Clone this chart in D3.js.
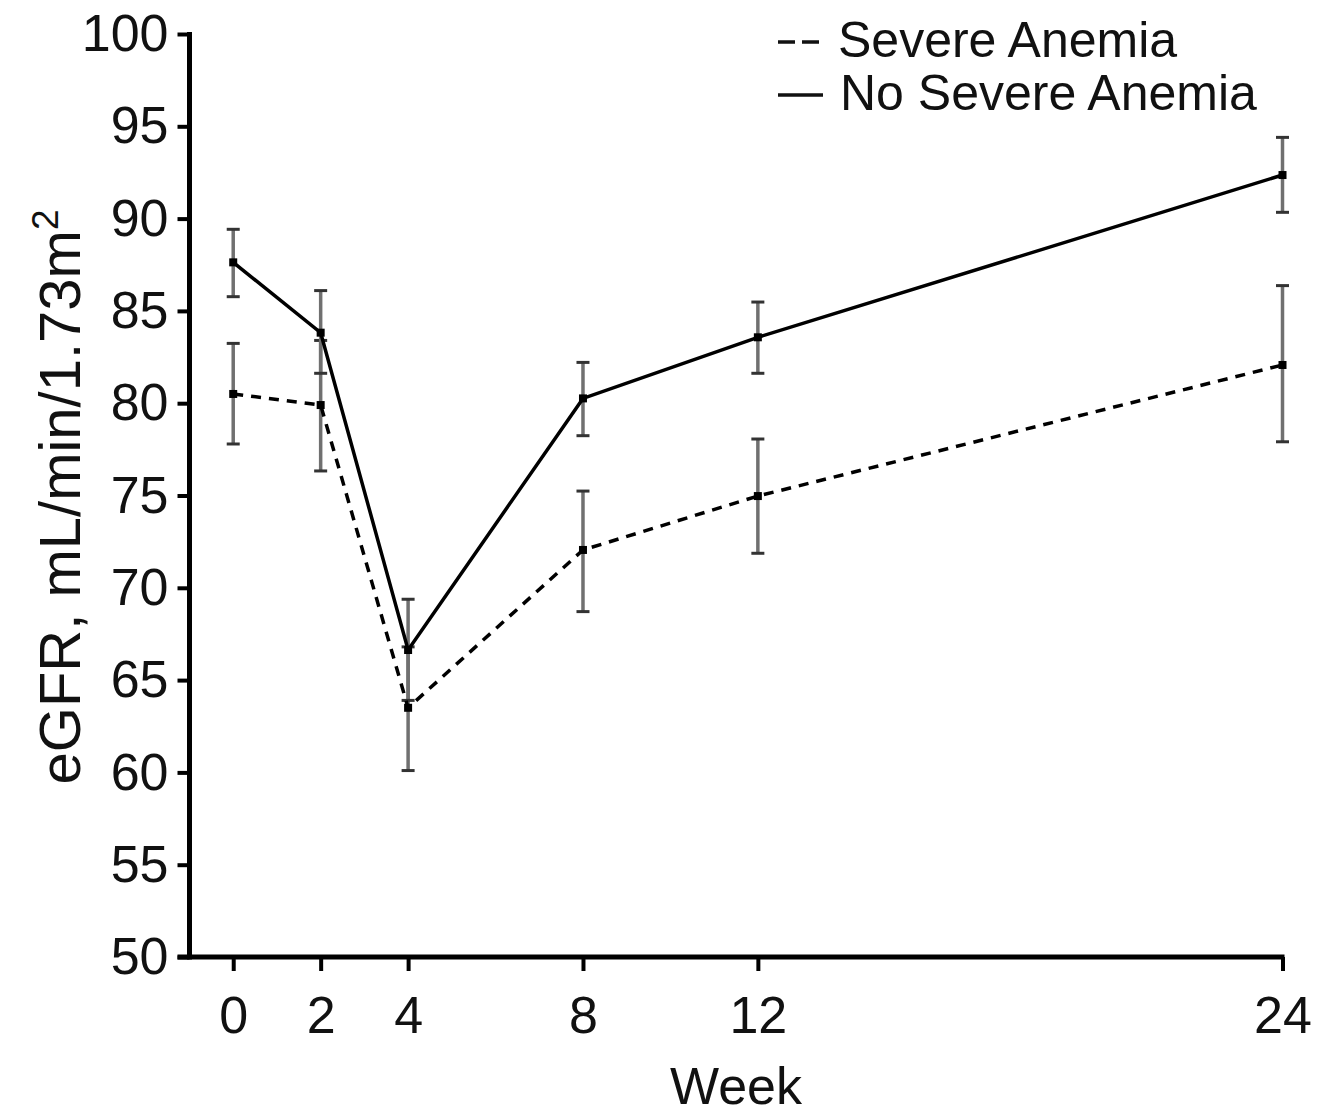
<!DOCTYPE html>
<html>
<head>
<meta charset="utf-8">
<script src="https://cdn.jsdelivr.net/npm/d3@7"></script>
<style>
html,body{margin:0;padding:0;background:#fff;}
svg{display:block;}
text{font-family:"Liberation Sans",Arial,sans-serif;fill:#111;}
</style>
</head>
<body>
<script>
const weeks = [0, 2, 4, 8, 12, 24];
const weekLabels = ["0", "2", "4", "8", "12", "24"];
const yTicks = [50, 55, 60, 65, 70, 75, 80, 85, 90, 95, 100];

const severeMean  = [80.5, 79.9, 63.5, 72.05, 74.97, 82.07];
const severeUpper = [83.24, 83.4, 66.8, 75.24, 78.06, 86.37];
const severeLower = [77.79, 76.33, 60.1, 68.71, 71.87, 77.91];

const noSevereMean  = [87.63, 83.82, 66.63, 80.26, 83.57, 92.36];
const noSevereUpper = [89.42, 86.1, 69.38, 82.21, 85.48, 94.4];
const noSevereLower = [85.77, 81.62, 63.9, 78.24, 81.62, 90.34];

const seriesNames = ["Severe Anemia", "No Severe Anemia"];

const W = 1328, H = 1117;
const svg = d3.select("body").append("svg").attr("width", W).attr("height", H);

const x = d3.scaleLinear().domain([-1, 24]).range([189.5, 1282.5]);
const y = d3.scaleLinear().domain([50, 100]).range([957, 34]);

const series = [
  {name: seriesNames[0], mean: severeMean, up: severeUpper, lo: severeLower, dash: "10,8"},
  {name: seriesNames[1], mean: noSevereMean, up: noSevereUpper, lo: noSevereLower, dash: null}
];

// error bars
const capW = 6.5;
series.forEach(s => {
  const g = svg.append("g");
  weeks.forEach((w, i) => {
    g.append("line").attr("x1", x(w)).attr("x2", x(w)).attr("y1", y(s.up[i])).attr("y2", y(s.lo[i]))
      .attr("stroke", "#707070").attr("stroke-width", 3.5);
    [s.up[i], s.lo[i]].forEach(v => {
      g.append("line").attr("x1", x(w) - capW).attr("x2", x(w) + capW).attr("y1", y(v)).attr("y2", y(v))
        .attr("stroke", "#333").attr("stroke-width", 3);
    });
  });
});

// lines
const line = d3.line().x(d => x(d[0])).y(d => y(d[1]));
series.forEach(s => {
  const pts = weeks.map((w, i) => [w, s.mean[i]]);
  const p = svg.append("path").datum(pts).attr("d", line)
    .attr("fill", "none").attr("stroke", "#000").attr("stroke-width", 3.5);
  if (s.dash) p.attr("stroke-dasharray", s.dash);
  svg.append("g").selectAll("rect").data(pts).join("rect")
    .attr("x", d => x(d[0]) - 4).attr("y", d => y(d[1]) - 4)
    .attr("width", 8).attr("height", 8).attr("fill", "#000");
});

// y axis
const yAxis = d3.axisLeft(y).tickValues(yTicks).tickSize(12).tickPadding(9).tickFormat(d3.format("d"));
const gy = svg.append("g").attr("transform", `translate(${x(-1)},0)`).call(yAxis);
gy.select(".domain").remove();
gy.selectAll(".tick line").attr("stroke", "#000").attr("stroke-width", 4);
gy.selectAll(".tick text").attr("font-size", 52).attr("font-family", "Liberation Sans, Arial, sans-serif").attr("fill", "#111");
svg.append("line").attr("x1", x(-1)).attr("x2", x(-1)).attr("y1", y(100) - 2).attr("y2", y(50) + 2.5)
  .attr("stroke", "#000").attr("stroke-width", 5);

// x axis
const xAxis = d3.axisBottom(x).tickValues(weeks).tickSize(14).tickPadding(25).tickFormat((d, i) => weekLabels[i]);
const gx = svg.append("g").attr("transform", `translate(0,${y(50)})`).call(xAxis);
gx.select(".domain").remove();
gx.selectAll(".tick line").attr("stroke", "#000").attr("stroke-width", 4);
gx.selectAll(".tick text").attr("font-size", 52).attr("font-family", "Liberation Sans, Arial, sans-serif").attr("fill", "#111");
svg.append("line").attr("x1", x(-1) - 12).attr("x2", x(24) + 2).attr("y1", y(50)).attr("y2", y(50))
  .attr("stroke", "#000").attr("stroke-width", 5);

// axis titles
svg.append("text").attr("x", 736).attr("y", 1104).attr("text-anchor", "middle")
  .attr("font-size", 52).text("Week");

const yl = svg.append("text").attr("transform", "translate(80,497) rotate(-90)")
  .attr("text-anchor", "middle").attr("font-size", 58);
yl.append("tspan").text("eGFR, mL/min/1.73m");
yl.append("tspan").attr("font-size", 37).attr("dy", -22).text("2");

// legend
svg.append("line").attr("x1", 778).attr("x2", 820).attr("y1", 42).attr("y2", 42)
  .attr("stroke", "#111").attr("stroke-width", 3.5).attr("stroke-dasharray", "17,7");
svg.append("line").attr("x1", 778).attr("x2", 823).attr("y1", 95).attr("y2", 95)
  .attr("stroke", "#111").attr("stroke-width", 3.5);
svg.append("text").attr("x", 838).attr("y", 57).attr("font-size", 50).text(seriesNames[0]);
svg.append("text").attr("x", 840).attr("y", 110).attr("font-size", 50).text(seriesNames[1]);
</script>
</body>
</html>
